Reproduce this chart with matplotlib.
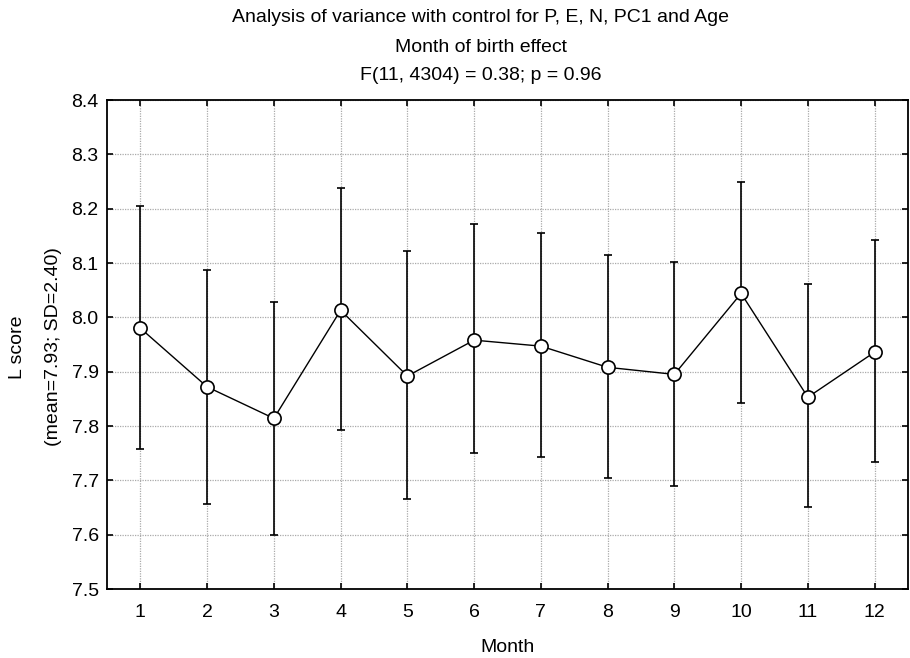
import matplotlib
matplotlib.use("Agg")
import matplotlib.pyplot as plt

months = [1, 2, 3, 4, 5, 6, 7, 8, 9, 10, 11, 12]
means = [7.980, 7.872, 7.814, 8.013, 7.892, 7.958, 7.947, 7.908, 7.895, 8.044, 7.853, 7.936]
upper = [8.204, 8.088, 8.029, 8.238, 8.122, 8.172, 8.155, 8.114, 8.101, 8.250, 8.061, 8.143]
lower = [7.758, 7.657, 7.600, 7.792, 7.666, 7.750, 7.743, 7.705, 7.690, 7.842, 7.650, 7.733]
yticks = [7.5, 7.6, 7.7, 7.8, 7.9, 8.0, 8.1, 8.2, 8.3, 8.4]

plt.rcParams['font.family'] = ['Liberation Sans', 'DejaVu Sans']
FS = 14

fig = plt.figure(figsize=(9.1, 6.58), dpi=100)
ax = fig.add_axes([107/910, 1-589/658, (908-107)/910, (589-100)/658])

yerr = [[m - l for m, l in zip(means, lower)], [u - m for m, u in zip(means, upper)]]
ax.errorbar(months, means, yerr=yerr, fmt='none', ecolor='black', elinewidth=1.2,
            capsize=3, capthick=1.2, zorder=2)
ax.plot(months, means, color='black', lw=1.0, marker='o', markersize=9.5,
        markerfacecolor='white', markeredgecolor='black', markeredgewidth=1.2, zorder=3)

ax.set_xlim(0.5, 12.5)
ax.set_ylim(7.5, 8.4)
ax.set_xticks(months)
ax.set_yticks(yticks)
ax.set_yticklabels([f"{v:.1f}" for v in yticks])
ax.tick_params(direction='in', length=4, width=1.2, top=True, right=True,
               labelsize=FS)
ax.tick_params(axis='y', pad=6)
ax.tick_params(axis='x', pad=11)
ax.grid(True, color='#aaaaaa', linestyle=(0, (1, 1)), linewidth=0.9)
for s in ax.spines.values():
    s.set_linewidth(1.3)

ax.set_xlabel('Month', fontsize=FS, labelpad=13)
fig.text(17/910, 1-347/658, 'L score', rotation=90, ha='center', va='center', fontsize=FS)
fig.text(54/910, 1-347/658, '(mean=7.93; SD=2.40)', rotation=90, ha='center', va='center',
         fontsize=FS)

tx = 481/910
fig.text(tx, 1-18/658, 'Analysis of variance with control for P, E, N, PC1 and Age',
         ha='center', va='center', fontsize=FS)
fig.text(tx, 1-47/658, 'Month of birth effect', ha='center', va='center', fontsize=FS)
fig.text(tx, 1-76/658, 'F(11, 4304) = 0.38; p = 0.96', ha='center', va='center', fontsize=FS)

fig.savefig('out.png', dpi=100)
